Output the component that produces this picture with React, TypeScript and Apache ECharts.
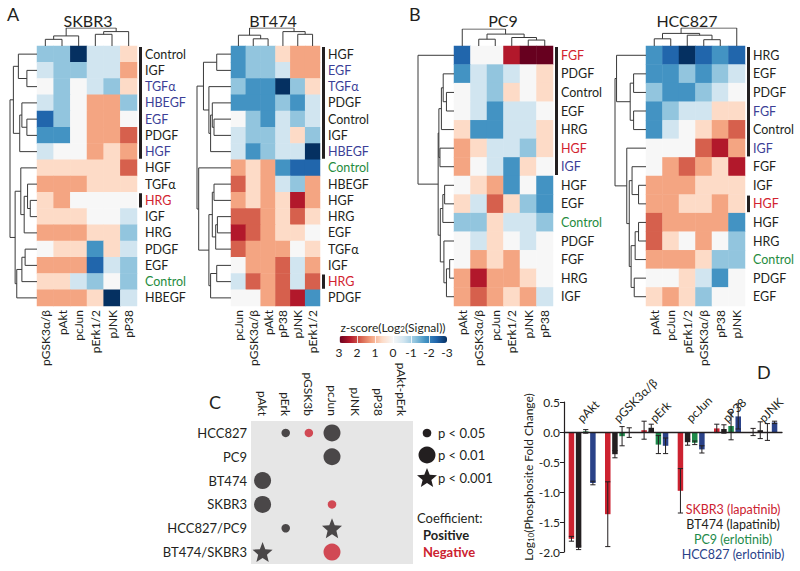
import React, { useEffect, useRef } from "react";
import * as echarts from "echarts";

const FONT = "Lato, 'Open Sans', sans-serif";
const INK = "#231f20";

// ---------------- Panels A / B : heatmaps ----------------
type Tree = number | [number, Tree, Tree];

const skbr3Cols = ["pGSK3α/β", "pAkt", "pcJun", "pErk1/2", "pJNK", "pP38"];
const skbr3Rows = ["Control", "IGF", "TGFα", "HBEGF", "EGF", "PDGF", "HGF", "HGF", "TGFα", "HRG", "IGF", "HRG", "PDGF", "EGF", "Control", "HBEGF"];
const skbr3RowColors = ["k", "k", "b", "b", "b", "k", "b", "k", "k", "r", "k", "k", "k", "k", "g", "k"];
const skbr3Values = [
  [-1.2, -1.2, -3, -0.6, -0.6, 0.6],
  [-0.6, -1.2, -1.2, -0.6, -0.6, 1.2],
  [0, -1.2, 0, -0.6, -1.2, 0.6],
  [-0.6, -1.2, 0, 1.2, 1.2, -1.2],
  [-2.4, -1.2, 0, 1.2, 1.2, 0],
  [-1.8, -1.8, 0, 1.2, 1.2, 1.8],
  [-0.6, 0, 0, 1.2, 0.6, 1.2],
  [0.6, 0.6, 0.6, 0.6, 0.6, 1.8],
  [1.2, 1.2, 1.2, 0.6, 0.6, 0.6],
  [0.6, 1.2, 0, 0, 0, 0],
  [0.6, 0.6, 0.6, 0, 0, -0.6],
  [1.2, 1.2, 1.2, 0.6, 0.6, -1.2],
  [0, 0.6, 0.6, -1.8, 0.6, -0.6],
  [1.2, 1.2, 1.2, -2.4, -0.6, -1.2],
  [0.6, 0.6, -0.6, -1.2, 0, -1.2],
  [1.2, 1.2, 1.2, 0.6, -3, -0.6],
];
const skbr3RowTree: Tree = [10, [8.75, [6.9, 0, [3.75, 1, 2]], [6.4, [5.6, 3, [3.75, 4, 5]], 6]], [8.1, [6.0, 7, [4.75, [3.5, 8, [2.5, 9, 10]], 11]], [7.5, [5.6, [4.4, 12, 13], 14], 15]]];
const skbr3ColTree: Tree = [10, [5.6, [3.7, 0, 1], 2], [8, [6.5, 3, 4], 5]];
const skbr3Brackets = [[0, 6], [9, 9]];

const bt474Cols = ["pcJun", "pGSK3α/β", "pAkt", "pP38", "pJNK", "pErk1/2"];
const bt474Rows = ["HGF", "EGF", "TGFα", "PDGF", "Control", "IGF", "HBEGF", "Control", "HBEGF", "HGF", "HRG", "EGF", "TGFα", "IGF", "HRG", "PDGF"];
const bt474RowColors = ["k", "b", "b", "k", "k", "k", "b", "g", "k", "k", "k", "k", "k", "k", "r", "k"];
const bt474Values = [
  [-1.8, -1.2, -1.2, 0.6, 1.2, 1.2],
  [-1.8, -1.2, -1.2, -0.6, 1.2, 1.2],
  [-1.2, -1.8, -1.8, -3, -1.2, 0.6],
  [-1.8, -1.8, -1.8, -1.2, -1.8, -0.6],
  [0, -1.2, -1.8, -0.6, -1.2, -0.6],
  [-0.6, -1.2, -1.2, -0.6, 0.6, -1.2],
  [-0.6, -1.8, -1.2, -0.6, -0.6, -3],
  [1.2, 0.6, 1.2, -1.8, -2.4, -2.4],
  [1.8, 0.6, 1.2, -0.6, -1.2, 1.2],
  [1.2, 0.6, 1.2, 0.6, 2.4, 1.2],
  [1.8, 1.8, 1.2, 0.6, 1.8, 0.6],
  [2.4, 1.8, 1.2, 0.6, 0.6, 0],
  [1.8, 1.2, 1.2, 1.2, 0, 0.6],
  [0, 1.2, 1.2, 1.8, -0.6, 1.2],
  [-0.6, 1.8, 1.2, 1.8, -0.6, 1.8],
  [0, 0, 1.2, 1.8, 2.4, -1.8],
];
const bt474RowTree: Tree = [10, [8.1, [4.2, 0, 1], [6.5, 2, [6.0, [5.5, 3, [5.0, 4, 5]], 6]]], [9.5, 7, [6.5, [5.5, [5.0, 8, 9], [4.5, [4.0, 10, 11], 12]], [6.0, [4.2, 13, 14], 15]]]];
const bt474ColTree: Tree = [10, [6, 0, [4, 1, 2]], [8, 3, [6.5, 4, 5]]];
const bt474Brackets = [[0, 6], [14, 14]];

const pc9Cols = ["pAkt", "pGSK3α/β", "pcJun", "pErk1/2", "pJNK", "pP38"];
const pc9Rows = ["FGF", "PDGF", "Control", "EGF", "HRG", "HGF", "IGF", "HGF", "EGF", "Control", "PDGF", "FGF", "HRG", "IGF"];
const pc9RowColors = ["r", "k", "k", "k", "k", "r", "b", "k", "k", "g", "k", "k", "k", "k"];
const pc9Values = [
  [-2.4, 0, 0, 2.4, 3, 3],
  [-1.8, -0.6, -1.2, -0.6, 0, 0.6],
  [0, -0.6, -1.2, 0.6, 0, 0.6],
  [0, -0.6, -1.8, -0.6, -0.6, 0],
  [0.6, -1.8, -1.8, -0.6, -0.6, 0.6],
  [1.2, 0.6, -0.6, -0.6, -1.2, 0.6],
  [1.2, 0, -0.6, -1.8, 0.6, 0],
  [0, 0.6, 1.2, -1.8, 0, -1.8],
  [0.6, -0.6, 1.8, 0.6, -1.2, -1.8],
  [-1.2, -1.2, 0.6, -0.6, -0.6, -1.2],
  [0, -0.6, 0.6, 0, -0.6, 0],
  [0, 1.2, 0.6, 1.2, 0, 0],
  [1.2, 2.4, 1.2, 1.2, 0.6, 0],
  [1.2, 1.8, 1.2, 0.6, 1.2, -0.6],
];
const pc9RowTree: Tree = [10, 0, [4.4, [4.2, [3.5, [3.0, 1, [2.1, 2, 3]], 4], [3.9, 5, 6]], [3.8, [3.1, [2.6, 7, 8], 9], [2.8, 10, [2.1, [1.2, 11, 12], 13]]]]];
const pc9ColTree: Tree = [10, 0, [7, [4, 1, 2], [5, 3, [3.5, 4, 5]]]];
const pc9Brackets = [[0, 6]];

const hcc827Cols = ["pAkt", "pcJun", "pErk1/2", "pGSK3α/β", "pP38", "pJNK"];
const hcc827Rows = ["HRG", "EGF", "PDGF", "FGF", "Control", "IGF", "FGF", "IGF", "HGF", "HGF", "HRG", "Control", "PDGF", "EGF"];
const hcc827RowColors = ["k", "k", "k", "b", "k", "b", "k", "k", "r", "k", "k", "g", "k", "k"];
const hcc827Values = [
  [-1.8, -2.4, -3, -2.4, -1.8, -2.4],
  [-1.8, -1.8, -1.2, -1.8, -1.2, -0.6],
  [-1.2, -1.8, -1.8, -1.2, -0.6, 0],
  [-1.8, -1.2, -0.6, -0.6, 0.6, 0.6],
  [-1.8, -0.6, 0, 0.6, 1.2, 1.8],
  [0, 0, 0, 1.8, 2.4, 1.2],
  [0, 1.2, 1.8, 1.2, 0.6, 2.4],
  [1.2, 1.2, 1.2, 0.6, 0.6, 0.6],
  [1.2, 1.2, 0.6, 0.6, 1.2, 0.6],
  [1.8, 1.2, 1.2, 1.2, 1.2, -1.8],
  [1.8, 0.6, 0, 1.2, 0, -1.2],
  [1.2, 1.2, 1.2, 0.6, -1.2, -1.2],
  [0, 0, 0.6, -0.6, -1.8, 0],
  [0.6, 1.2, 0.6, -1.2, 0, 0],
];
const hcc827RowTree: Tree = [10, [9.5, 0, [5.1, [4, 1, 2], [4, 3, 4]]], [6.2, 5, [5.4, [4.5, 6, [2.4, 7, 8]], [4.8, [3.5, [2.4, 9, 10], 11], [3.8, 12, 13]]]]];
const hcc827ColTree: Tree = [10, [7, [4, 0, 1], [6, 2, [3.5, 3, 4]]], 5];
const hcc827Brackets = [[0, 5], [8, 8]];

const heatColors = ["#053061", "#2166ac", "#4393c3", "#92c5de", "#d1e5f0", "#f7f7f7", "#fddbc7", "#f4a582", "#d6604d", "#b2182b", "#67001f"];
const labelColorMap: Record<string, string> = { k: INK, b: "#3c3f97", g: "#1f8c3e", r: "#d2232f" };

// ---------------- Panel C ----------------
const cCols = ["pAkt", "pErk", "pGSK3b", "pcJun", "pJNK", "pP38", "pAkt-pErk"];
const cRows = ["HCC827", "PC9", "BT474", "SKBR3", "HCC827/PC9", "BT474/SKBR3"];
// [column, row, level (0: p<0.05, 1: p<0.01, 2: p<0.001), sign]
const cHits = [
  [1, 0, 0, 1], [2, 0, 0, -1], [3, 0, 1, 1],
  [3, 1, 1, 1],
  [0, 2, 1, 1],
  [0, 3, 1, 1], [3, 3, 0, -1],
  [1, 4, 0, 1], [3, 4, 2, 1],
  [0, 5, 2, 1], [3, 5, 1, -1],
];
const cLevels = ["p < 0.05", "p < 0.01", "p < 0.001"];

// ---------------- Panel D ----------------
const dGroups = ["pAkt", "pGSK3α/β", "pErk", "pcJun", "pP38", "pJNK"];
const dSeriesNames = ["SKBR3 (lapatinib)", "BT474 (lapatinib)", "PC9 (erlotinib)", "HCC827 (erlotinib)"];
const dColors = ["#cc2230", "#231f20", "#1d8a4a", "#2a4289"];
const skbr3Fold = [-1.78, -1.37, 0.03, -0.98, 0.06, 0.0];
const skbr3Err = [0.04, 0.54, 0.15, 0.37, 0.07, 0.06];
const bt474Fold = [-1.93, -0.37, 0.07, -0.17, 0.05, 0.03];
const bt474Err = [0.03, 0.06, 0.06, 0.05, 0.07, 0.14];
const pc9Fold = [0.01, -0.07, -0.21, -0.18, 0.1, 0.0];
const pc9Err = [0.03, 0.16, 0.15, 0.03, 0.23, 0.14];
const hcc827Fold = [-0.85, -0.01, -0.23, -0.29, 0.26, 0.16];
const hcc827Err = [0.03, 0.08, 0.13, 0.06, 0.21, 0.02];
const dYTicks = { min: -2, max: 0.5, interval: 0.5 };

// ---------------- layout ----------------
const HEAT_TOP = 46;
const HEAT_H = 260;
const heatLayout = [
  { left: 37, width: 100, dendroLeft: 10, dendroTop: 28, titleX: 88 },
  { left: 231, width: 89, dendroLeft: 197, dendroTop: 28, titleX: 273 },
  { left: 454, width: 99, dendroLeft: 418, dendroTop: 29, titleX: 503 },
  { left: 646, width: 99, dendroLeft: 615, dendroTop: 28, titleX: 687 },
];
const BAR_W = 5.5;
const BAR_GAP = 0.3;
const STAR = "path://M50,0 L62.9,32.2 L97.6,34.5 L70.9,56.8 L79.4,90.5 L50,72 L20.6,90.5 L29.1,56.8 L2.4,34.5 L37.1,32.2 Z";

function dendroSegments(tree: Tree, out: number[][][]): [number, number] {
  if (typeof tree === "number") return [tree, 0];
  const [h, a, b] = tree;
  const [pa, ha] = dendroSegments(a, out);
  const [pb, hb] = dendroSegments(b, out);
  out.push([[pa, ha], [pa, h], [pb, h], [pb, hb]]);
  return [(pa + pb) / 2, h];
}

function starPoints(cx: number, cy: number, R: number, r: number) {
  const pts: number[][] = [];
  for (let i = 0; i < 10; i++) {
    const a = -Math.PI / 2 + (i * Math.PI) / 5;
    const rad = i % 2 === 0 ? R : r;
    pts.push([cx + rad * Math.cos(a), cy + rad * Math.sin(a)]);
  }
  return pts;
}

function txt(x: number, y: number, text: string, opts: any = {}) {
  const align = opts.align || "left";
  const valign = opts.valign || "middle";
  return {
    type: "text",
    x,
    y,
    silent: true,
    style: {
      text,
      fill: opts.color || INK,
      fontSize: opts.size || 12,
      fontFamily: FONT,
      fontWeight: opts.weight || "normal",
      textAlign: align,
      align,
      textVerticalAlign: valign,
      verticalAlign: valign,
    },
  };
}

function buildOption() {
  const grids: any[] = [];
  const xAxis: any[] = [];
  const yAxis: any[] = [];
  const series: any[] = [];
  const graphic: any[] = [];
  const heatIdx: number[] = [];

  const panels = [
    { title: "SKBR3", cols: skbr3Cols, rows: skbr3Rows, rowColors: skbr3RowColors, values: skbr3Values, rowTree: skbr3RowTree, colTree: skbr3ColTree, brackets: skbr3Brackets },
    { title: "BT474", cols: bt474Cols, rows: bt474Rows, rowColors: bt474RowColors, values: bt474Values, rowTree: bt474RowTree, colTree: bt474ColTree, brackets: bt474Brackets },
    { title: "PC9", cols: pc9Cols, rows: pc9Rows, rowColors: pc9RowColors, values: pc9Values, rowTree: pc9RowTree, colTree: pc9ColTree, brackets: pc9Brackets },
    { title: "HCC827", cols: hcc827Cols, rows: hcc827Rows, rowColors: hcc827RowColors, values: hcc827Values, rowTree: hcc827RowTree, colTree: hcc827ColTree, brackets: hcc827Brackets },
  ];

  const hidden = { show: false };
  panels.forEach((p, i) => {
    const L = heatLayout[i];
    const nR = p.rows.length;
    const nC = p.cols.length;
    // heatmap
    const g = grids.length;
    grids.push({ left: L.left, top: HEAT_TOP, width: L.width, height: HEAT_H });
    xAxis.push({
      gridIndex: g, type: "category", data: p.cols, position: "bottom",
      axisLine: hidden, axisTick: hidden, splitLine: hidden,
      axisLabel: { rotate: 90, margin: 4, fontSize: 12, color: INK, fontFamily: FONT, interval: 0 },
    });
    yAxis.push({
      gridIndex: g, type: "category", inverse: true, position: "right",
      data: p.rows.map((r, j) => ({ value: r, textStyle: { color: labelColorMap[p.rowColors[j]] } })),
      axisLine: hidden, axisTick: hidden, splitLine: hidden,
      axisLabel: { margin: 8, fontSize: 12.5, fontFamily: FONT, interval: 0 },
    });
    const data: number[][] = [];
    p.values.forEach((row, r) => row.forEach((v, c) => data.push([c, r, v])));
    heatIdx.push(series.length);
    series.push({
      type: "heatmap", name: p.title, xAxisIndex: g, yAxisIndex: g, data,
      itemStyle: { borderWidth: 0 }, emphasis: { disabled: true }, silent: true,
    });

    // row dendrogram
    const gr = grids.length;
    grids.push({ left: L.dendroLeft, top: HEAT_TOP, width: L.left - L.dendroLeft, height: HEAT_H });
    xAxis.push({ gridIndex: gr, type: "value", min: 0, max: 10, inverse: true, show: false });
    yAxis.push({ gridIndex: gr, type: "value", min: -0.5, max: nR - 0.5, inverse: true, show: false });
    const rs: number[][][] = [];
    dendroSegments(p.rowTree, rs);
    series.push({
      type: "lines", coordinateSystem: "cartesian2d", xAxisIndex: gr, yAxisIndex: gr, polyline: true, silent: true,
      lineStyle: { color: "#3a3a3a", width: 1, opacity: 1 },
      data: rs.map((s) => ({ coords: s.map(([pos, h]) => [h, pos]) })),
    });

    // column dendrogram
    const gc = grids.length;
    grids.push({ left: L.left, top: L.dendroTop, width: L.width, height: HEAT_TOP - L.dendroTop });
    xAxis.push({ gridIndex: gc, type: "value", min: -0.5, max: nC - 0.5, show: false });
    yAxis.push({ gridIndex: gc, type: "value", min: 0, max: 10, show: false });
    const cs: number[][][] = [];
    dendroSegments(p.colTree, cs);
    series.push({
      type: "lines", coordinateSystem: "cartesian2d", xAxisIndex: gc, yAxisIndex: gc, polyline: true, silent: true,
      lineStyle: { color: "#3a3a3a", width: 1, opacity: 1 },
      data: cs.map((s) => ({ coords: s })),
    });

    // title and black brackets
    graphic.push(txt(L.titleX, 20, p.title, { size: 16, align: "center" }));
    const rowH = HEAT_H / nR;
    p.brackets.forEach(([r0, r1]) => {
      graphic.push({
        type: "rect", silent: true,
        shape: { x: L.left + L.width + 2, y: HEAT_TOP + r0 * rowH + 1, width: 3, height: (r1 - r0 + 1) * rowH - 2 },
        style: { fill: INK },
      });
    });
  });

  // colour bar tick axis
  const gb = grids.length;
  grids.push({ left: 339, top: 336, width: 108, height: 7 });
  xAxis.push({
    gridIndex: gb, type: "value", min: -3, max: 3, interval: 1, inverse: true, z: 10,
    axisLine: hidden, splitLine: hidden,
    axisTick: { show: true, inside: true, length: 7, lineStyle: { color: "rgba(255,255,255,0.8)", width: 1 } },
    axisLabel: { margin: 3, fontSize: 12, color: INK, fontFamily: FONT, formatter: (v: number) => String(v) },
  });
  yAxis.push({ gridIndex: gb, type: "value", min: 0, max: 1, show: false });
  graphic.push({
    type: "text", x: 393, y: 326, silent: true,
    style: {
      text: "{a|z-score(Log}{s|2}{a|(Signal))}", textAlign: "center", align: "center",
      textVerticalAlign: "middle", verticalAlign: "middle", fill: INK, fontFamily: FONT,
      rich: {
        a: { fontSize: 12, lineHeight: 14, fontFamily: FONT, fill: INK, verticalAlign: "bottom" },
        s: { fontSize: 8, lineHeight: 9, fontFamily: FONT, fill: INK, verticalAlign: "bottom" },
      },
    },
  });

  // ---------------- Panel C ----------------
  const gC = grids.length;
  grids.push({ left: 251, top: 421, width: 162, height: 143, show: true, backgroundColor: "#e6e6e6", borderWidth: 0 });
  xAxis.push({
    gridIndex: gC, type: "category", data: cCols, position: "top",
    axisLine: hidden, axisTick: hidden, splitLine: hidden,
    axisLabel: { rotate: 90, margin: 5, fontSize: 12, color: INK, fontFamily: FONT, interval: 0 },
  });
  yAxis.push({
    gridIndex: gC, type: "category", data: cRows, inverse: true,
    axisLine: hidden, axisTick: hidden, splitLine: hidden,
    axisLabel: { margin: 4, fontSize: 13, color: INK, fontFamily: FONT, interval: 0 },
  });
  const levelSizes = [8.5, 17, 20];
  const levelSymbols = ["circle", "circle", STAR];
  cLevels.forEach((name, lv) => {
    series.push({
      type: "scatter", name, xAxisIndex: gC, yAxisIndex: gC, silent: true,
      symbol: levelSymbols[lv], symbolSize: levelSizes[lv],
      data: cHits.filter((h) => h[2] === lv).map((h) => ({
        value: [h[0], h[1]],
        itemStyle: { color: h[3] > 0 ? INK : "#cc2230" },
      })),
    });
  });
  graphic.push({ type: "circle", silent: true, shape: { cx: 427, cy: 433, r: 4.3 }, style: { fill: INK } });
  graphic.push({ type: "circle", silent: true, shape: { cx: 427, cy: 455, r: 8.5 }, style: { fill: INK } });
  graphic.push({ type: "polygon", silent: true, shape: { points: starPoints(427, 478.5, 10.5, 4.6) }, style: { fill: INK } });
  graphic.push(txt(438, 433, cLevels[0], { size: 13 }));
  graphic.push(txt(438, 455, cLevels[1], { size: 13 }));
  graphic.push(txt(438, 478, cLevels[2], { size: 13 }));
  graphic.push(txt(417, 518, "Coefficient:", { size: 13 }));
  graphic.push(txt(423, 535, "Positive", { size: 13, weight: "bold" }));
  graphic.push(txt(423, 552, "Negative", { size: 13, weight: "bold", color: "#cc2230" }));

  // ---------------- Panel D ----------------
  const gD = grids.length;
  grids.push({ left: 564, top: 402, width: 218, height: 150 });
  xAxis.push({
    gridIndex: gD, type: "category", data: dGroups,
    axisLine: { onZero: true, lineStyle: { color: INK, width: 1.3 } },
    axisTick: hidden, splitLine: hidden, axisLabel: hidden,
    z: 5,
  });
  yAxis.push({
    gridIndex: gD, type: "value", min: dYTicks.min, max: dYTicks.max, interval: dYTicks.interval,
    axisLine: { show: true, onZero: false, lineStyle: { color: INK, width: 1.2 } },
    axisTick: { show: true, length: 4, lineStyle: { color: INK } },
    splitLine: hidden,
    axisLabel: { fontSize: 12, color: INK, fontFamily: FONT, margin: 4, formatter: (v: number) => v.toFixed(1) },
    name: "{a|Log}{s|10}{a|(Phosphosite Fold Change)}",
    nameLocation: "middle", nameRotate: 90, nameGap: 25,
    nameTextStyle: {
      color: INK, fontFamily: FONT,
      rich: {
        a: { fontSize: 12, lineHeight: 14, color: INK, fontFamily: FONT, verticalAlign: "bottom" },
        s: { fontSize: 8, lineHeight: 9, color: INK, fontFamily: FONT, verticalAlign: "bottom" },
      },
    },
  });
  const folds = [skbr3Fold, bt474Fold, pc9Fold, hcc827Fold];
  const errs = [skbr3Err, bt474Err, pc9Err, hcc827Err];
  folds.forEach((vals, k) => {
    series.push({
      type: "bar", name: dSeriesNames[k], xAxisIndex: gD, yAxisIndex: gD, silent: true,
      barWidth: BAR_W, barGap: `${BAR_GAP * 100}%`, itemStyle: { color: dColors[k] }, data: vals,
    });
  });
  const errData: number[][] = [];
  folds.forEach((vals, k) => vals.forEach((v, gi) => errData.push([gi, v, errs[k][gi], k])));
  series.push({
    type: "custom", xAxisIndex: gD, yAxisIndex: gD, silent: true, clip: false, z: 5,
    encode: { x: 0, y: 1 },
    data: errData,
    renderItem: (params: any, api: any) => {
      const gi = api.value(0);
      const v = api.value(1);
      const e = api.value(2);
      const k = api.value(3);
      const pitch = BAR_W * (1 + BAR_GAP);
      const base = api.coord([gi, v]);
      const x = base[0] + (k - 1.5) * pitch;
      const top = api.coord([gi, v + e])[1];
      const bot = api.coord([gi, v - e])[1];
      const cap = 2.6;
      const st = { stroke: INK, lineWidth: 1 };
      return {
        type: "group",
        children: [
          { type: "line", shape: { x1: x, y1: top, x2: x, y2: bot }, style: st },
          { type: "line", shape: { x1: x - cap, y1: top, x2: x + cap, y2: top }, style: st },
          { type: "line", shape: { x1: x - cap, y1: bot, x2: x + cap, y2: bot }, style: st },
        ],
      };
    },
  });
  // slanted group labels, placed on the category scale above the zero line
  series.push({
    type: "custom", xAxisIndex: gD, yAxisIndex: gD, silent: true, clip: false, z: 6,
    encode: { x: 0, y: 1 },
    data: dGroups.map((_, gi) => [gi, 0]),
    renderItem: (params: any, api: any) => {
      const gi = api.value(0);
      const p = api.coord([gi, 0]);
      return {
        type: "text",
        x: p[0] - 3,
        y: p[1] - 12,
        rotation: Math.PI / 4,
        style: {
          text: dGroups[gi], fill: INK, fontSize: 12, fontFamily: FONT,
          textAlign: "left", align: "left", textVerticalAlign: "middle", verticalAlign: "middle",
        },
      };
    },
  });
  const legendY = [509, 524, 539, 554];
  dSeriesNames.forEach((n, k) => graphic.push(txt(733, legendY[k], n, { size: 12.5, align: "center", color: dColors[k] })));

  // panel letters
  graphic.push(txt(7, 14, "A", { size: 18 }));
  graphic.push(txt(409, 14, "B", { size: 18 }));
  graphic.push(txt(209, 402, "C", { size: 18 }));
  graphic.push(txt(757, 372, "D", { size: 18 }));

  return {
    animation: false,
    backgroundColor: "#ffffff",
    textStyle: { fontFamily: FONT },
    grid: grids,
    xAxis,
    yAxis,
    series,
    graphic,
    visualMap: {
      type: "continuous", min: -3, max: 3, seriesIndex: heatIdx,
      inRange: { color: heatColors },
      orient: "horizontal", inverse: true, calculable: false,
      itemWidth: 7, itemHeight: 108, left: 339, top: 336, padding: 0,
      z: 4,
    },
  };
}

export default function App() {
  const ref = useRef<HTMLDivElement>(null);
  useEffect(() => {
    if (!ref.current) return;
    const chart = echarts.init(ref.current, null, { renderer: "svg" });
    chart.setOption(buildOption() as any);
    return () => chart.dispose();
  }, []);
  return (
    <div
      ref={ref}
      style={{ position: "fixed", left: 0, top: 0, width: 800, height: 571, background: "#fff" }}
    />
  );
}
